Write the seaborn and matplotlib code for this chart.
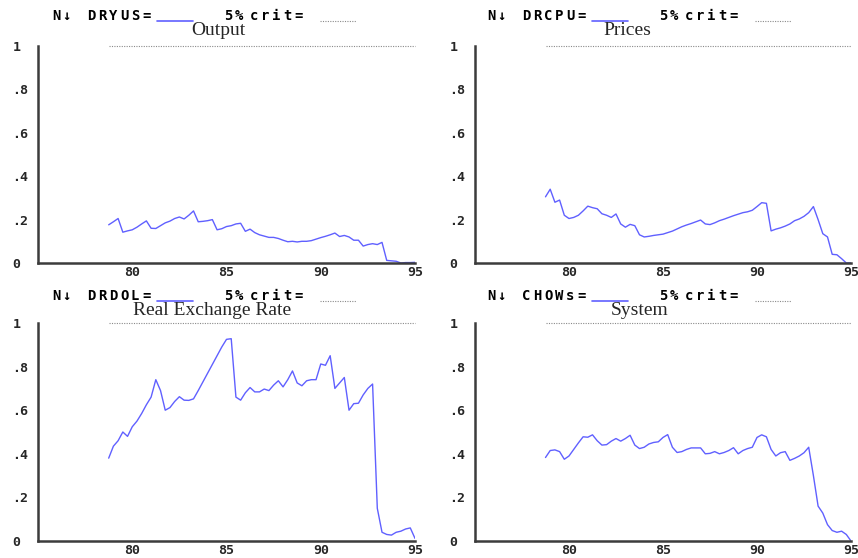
import numpy as np
import pandas as pd
import matplotlib
matplotlib.use("Agg")
import matplotlib.pyplot as plt
from matplotlib.lines import Line2D
from matplotlib.ticker import FixedLocator, MultipleLocator, FixedFormatter
import seaborn as sns

# ---------------------------------------------------------------- data
# quarterly sample 1978Q4 .. 1995Q1
quarters = pd.period_range("1978Q4", "1995Q1", freq="Q")

output_vals = [
    0.176, 0.190, 0.205, 0.142, 0.148, 0.153, 0.165, 0.180, 0.194, 0.160,
    0.159, 0.172, 0.185, 0.193, 0.205, 0.212, 0.203, 0.220, 0.240, 0.190,
    0.192, 0.195, 0.200, 0.153, 0.158, 0.168, 0.172, 0.180, 0.183, 0.146,
    0.156, 0.140, 0.130, 0.124, 0.118, 0.118, 0.113, 0.105, 0.098, 0.100,
    0.097, 0.100, 0.100, 0.103, 0.110, 0.117, 0.123, 0.130, 0.138, 0.122,
    0.127, 0.120, 0.105, 0.105, 0.078, 0.085, 0.089, 0.085, 0.095, 0.012,
    0.010, 0.008, 0.000, 0.002, 0.002, 0.003,
]
prices_vals = [
    0.305, 0.340, 0.280, 0.290, 0.220, 0.205, 0.210, 0.220, 0.240, 0.262,
    0.255, 0.250, 0.227, 0.220, 0.210, 0.226, 0.180, 0.165, 0.178, 0.172,
    0.130, 0.120, 0.123, 0.127, 0.130, 0.133, 0.140, 0.147, 0.157, 0.167,
    0.175, 0.182, 0.190, 0.198, 0.180, 0.177, 0.185, 0.195, 0.202, 0.210,
    0.218, 0.225, 0.232, 0.236, 0.243, 0.260, 0.278, 0.275, 0.148, 0.156,
    0.162, 0.170, 0.180, 0.195, 0.203, 0.215, 0.232, 0.260, 0.200, 0.135,
    0.120, 0.040, 0.038, 0.020, 0.000, 0.000,
]
rer_vals = [
    0.380, 0.435, 0.460, 0.500, 0.480, 0.524, 0.550, 0.585, 0.625, 0.660,
    0.740, 0.690, 0.600, 0.612, 0.640, 0.662, 0.646, 0.645, 0.652, 0.690,
    0.730, 0.770, 0.810, 0.850, 0.890, 0.925, 0.928, 0.660, 0.646, 0.680,
    0.704, 0.684, 0.684, 0.697, 0.690, 0.715, 0.735, 0.707, 0.740, 0.780,
    0.725, 0.712, 0.735, 0.740, 0.740, 0.812, 0.806, 0.850, 0.700, 0.725,
    0.750, 0.600, 0.630, 0.632, 0.670, 0.700, 0.720, 0.150, 0.040, 0.030,
    0.027, 0.040, 0.045, 0.055, 0.060, 0.012,
]
system_vals = [
    0.383, 0.415, 0.418, 0.410, 0.375, 0.390, 0.420, 0.450, 0.478, 0.476,
    0.487, 0.460, 0.440, 0.442, 0.458, 0.470, 0.458, 0.470, 0.485, 0.440,
    0.424, 0.430, 0.445, 0.452, 0.455, 0.475, 0.488, 0.430, 0.406, 0.410,
    0.420, 0.427, 0.427, 0.427, 0.400, 0.402, 0.410, 0.400, 0.406, 0.415,
    0.428, 0.400, 0.415, 0.424, 0.430, 0.475, 0.487, 0.478, 0.420, 0.390,
    0.405, 0.410, 0.370, 0.379, 0.390, 0.405, 0.430, 0.300, 0.160, 0.128,
    0.075, 0.048, 0.040, 0.045, 0.030, 0.000,
]

# 5% critical value (tests are scaled so that it equals one)
crit_value = 1.0

test_names = ["DRYUS", "DRCPU", "DRDOL", "CHOWs"]
titles = ["Output", "Prices", "Real Exchange Rate", "System"]
series = [output_vals, prices_vals, rer_vals, system_vals]

year_ticks = [80, 85, 90, 95]
year_labels = ["80", "85", "90", "95"]
y_ticks = [0, 0.2, 0.4, 0.6, 0.8, 1.0]
y_labels = ["0", ".2", ".4", ".6", ".8", "1"]

# decimal two-digit year of each quarter
t = np.array([q.year - 1900 + (q.quarter - 1) / 4 for q in quarters])

frames = []
for name, vals in zip(test_names, series):
    frames.append(pd.DataFrame({"t": t, "value": vals, "test": name}))
df = pd.concat(frames, ignore_index=True)

# ---------------------------------------------------------------- style
sns.set_style("white")
plt.rcParams["font.family"] = ["DejaVu Sans Mono", "DejaVu Sans"]
plt.rcParams["font.weight"] = "bold"

W, H = 858, 558
fig = plt.figure(figsize=(W / 100, H / 100), dpi=100)

LINE_BLUE = "#6060ff"
AXIS_GREY = "#3c3c3c"
DOT_GREY = "#8a8a8a"
MONO = ["DejaVu Sans Mono", "DejaVu Sans"]


def fx(px):
    return px / W


def fy(py):
    return 1 - py / H


def spaced(x_px, y_px, s, pitch=11.0, size=10):
    for i, ch in enumerate(s):
        if ch != " ":
            fig.text(fx(x_px + i * pitch), fy(y_px), ch, ha="left",
                     va="baseline", fontsize=size, fontweight="bold",
                     family=MONO, color="black")


# axes rectangles in pixels: left, top, right, bottom
boxes = [(38, 46, 415, 263), (475, 46, 851, 263),
         (38, 323, 415, 541), (475, 323, 851, 541)]
title_pos = [(218, 35), (627, 35), (212, 315), (640, 315)]

for i, (name, title, box) in enumerate(zip(test_names, titles, boxes)):
    l, tp, r, b = box
    ax = fig.add_axes([fx(l), fy(b), (r - l) / W, (b - tp) / H])
    sub = df[df["test"] == name]
    sns.lineplot(data=sub, x="t", y="value", ax=ax, color=LINE_BLUE,
                 linewidth=1.0, legend=False)
    ax.hlines(crit_value, sub["t"].min(), sub["t"].max(), colors=DOT_GREY,
              linestyles=(0, (1, 1.2)), linewidth=0.8, clip_on=False)

    ax.set_xlim(75, 95)
    ax.set_ylim(0, 1)
    ax.set_xlabel("")
    ax.set_ylabel("")
    for side in ("top", "right"):
        ax.spines[side].set_visible(False)
    for side in ("left", "bottom"):
        ax.spines[side].set_color(AXIS_GREY)
        ax.spines[side].set_linewidth(1.8)

    ax.xaxis.set_major_locator(FixedLocator(year_ticks))
    ax.xaxis.set_major_formatter(FixedFormatter(year_labels))
    ax.xaxis.set_minor_locator(MultipleLocator(1))
    ax.yaxis.set_major_locator(FixedLocator(y_ticks))
    ax.yaxis.set_major_formatter(FixedFormatter(y_labels))
    ax.yaxis.set_minor_locator(MultipleLocator(0.1))

    ax.tick_params(axis="x", which="both", direction="in", length=3,
                   width=1.2, color=AXIS_GREY, pad=2.5, labelsize=9.5)
    ax.tick_params(axis="y", which="major", direction="in", length=6,
                   width=1.2, color=AXIS_GREY, pad=18.5, labelsize=9.5)
    ax.tick_params(axis="y", which="minor", direction="in", length=4,
                   width=1.2, color=AXIS_GREY)
    for lab in ax.get_yticklabels():
        lab.set_horizontalalignment("left")
        lab.set_fontweight("bold")
    for lab in ax.get_xticklabels():
        lab.set_fontweight("bold")

    # header: test name with line sample and critical-value sample
    base = 20.5 if i < 2 else 300.5
    x0 = 52 if i % 2 == 0 else 487
    spaced(x0, base, "N\u2193", pitch=10.0)
    spaced(x0 + 35, base, name + "=")
    fig.add_artist(Line2D([fx(x0 + 105), fx(x0 + 141)], [fy(base), fy(base)],
                          color=LINE_BLUE, linewidth=1.2))
    spaced(x0 + 172, base, "5%")
    spaced(x0 + 198, base, "crit=")
    fig.add_artist(Line2D([fx(x0 + 268), fx(x0 + 304)], [fy(base), fy(base)],
                          color=DOT_GREY, linewidth=0.8,
                          linestyle=(0, (1, 1.2))))

    tx, ty = title_pos[i]
    fig.text(fx(tx), fy(ty), title, ha="center", va="baseline",
             fontsize=14, fontweight="normal",
             family=["Liberation Serif", "DejaVu Serif"])

fig.savefig("out.png", dpi=100)
